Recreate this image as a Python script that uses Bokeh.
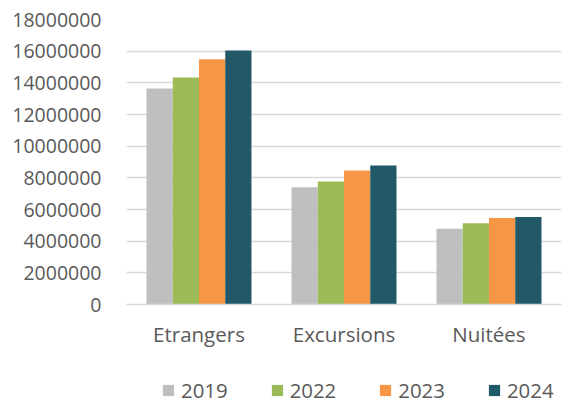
from bokeh.plotting import figure
from bokeh.layouts import column
from bokeh.models import (FactorRange, Range1d, Legend, LegendItem, ColumnDataSource,
                          FixedTicker, NumeralTickFormatter)
from bokeh.transform import dodge
from bokeh.embed import file_html
from bokeh.resources import INLINE

categories = ["Etrangers", "Excursions", "Nuitées"]
years = ["2019", "2022", "2023", "2024"]
v2019 = [13650000, 7400000, 4790000]
v2022 = [14330000, 7770000, 5130000]
v2023 = [15490000, 8460000, 5470000]
v2024 = [16040000, 8780000, 5530000]
y_ticks = [0, 2000000, 4000000, 6000000, 8000000, 10000000, 12000000, 14000000, 16000000, 18000000]
colors = ["#BFBFBF", "#9BBB59", "#F79646", "#215968"]

FONT = "Open Sans"
TXT = "#595959"

source = ColumnDataSource(data=dict(cat=categories, y2019=v2019, y2022=v2022,
                                    y2023=v2023, y2024=v2024))

p = figure(x_range=FactorRange(*categories), y_range=Range1d(0, 18000000),
           width=565, height=352,
           min_border_left=126, min_border_top=19, min_border_right=4, min_border_bottom=48,
           output_backend="svg", toolbar_location=None)

bw = 0.181
offsets = [-1.5 * bw, -0.5 * bw, 0.5 * bw, 1.5 * bw]
for yr, col, off in zip(years, colors, offsets):
    p.vbar(x=dodge("cat", off, range=p.x_range), top="y" + yr, width=bw,
           source=source, fill_color=col, line_color=None)

p.outline_line_color = None
p.background_fill_color = "white"
p.border_fill_color = "white"

# grid
p.xgrid.grid_line_color = None
p.ygrid.grid_line_color = "#D9D9D9"
p.ygrid.grid_line_width = 1.5

# y axis
p.yaxis.ticker = FixedTicker(ticks=y_ticks)
p.yaxis.formatter = NumeralTickFormatter(format="0")
p.yaxis.axis_line_color = None
p.yaxis.major_tick_line_color = None
p.yaxis.minor_tick_line_color = None
p.yaxis.major_label_standoff = 19
p.yaxis.major_label_text_font = FONT
p.yaxis.major_label_text_font_size = "19.5px"
p.yaxis.major_label_text_color = TXT

# x axis
p.xaxis.axis_line_color = "#D9D9D9"
p.xaxis.axis_line_width = 1.5
p.xaxis.major_tick_line_color = None
p.xaxis.minor_tick_line_color = None
p.xaxis.major_tick_out = 0
p.xaxis.major_label_standoff = 15
p.xaxis.major_label_text_font = FONT
p.xaxis.major_label_text_font_size = "20.5px"
p.xaxis.major_label_text_color = TXT

# legend strip (separate figure below the chart, frame aligned with the chart's)
pl = figure(width=565, height=52, x_range=Range1d(0, 1), y_range=Range1d(0, 1),
            x_axis_type=None, y_axis_type=None, min_border=0,
            output_backend="svg", toolbar_location=None)
pl.outline_line_color = None
pl.background_fill_color = "white"
pl.border_fill_color = "white"
items = []
for yr, col in zip(years, colors):
    # zero-height swatch carrier: only its legend entry is visible
    r = pl.vbar(x=[0], top=[0], bottom=[0], width=0, fill_color=col, line_color=None)
    items.append(LegendItem(label=yr, renderers=[r]))

legend = Legend(items=items, orientation="horizontal", location=(35, 0),
                glyph_width=14, glyph_height=14, label_standoff=6, spacing=42,
                padding=0, margin=0, border_line_color=None,
                background_fill_alpha=0,
                label_text_font=FONT, label_text_font_size="20.4px",
                label_text_color=TXT)
pl.add_layout(legend, "center")

layout = column(p, pl, spacing=0)
open("out.html", "w").write(file_html(layout, INLINE))
